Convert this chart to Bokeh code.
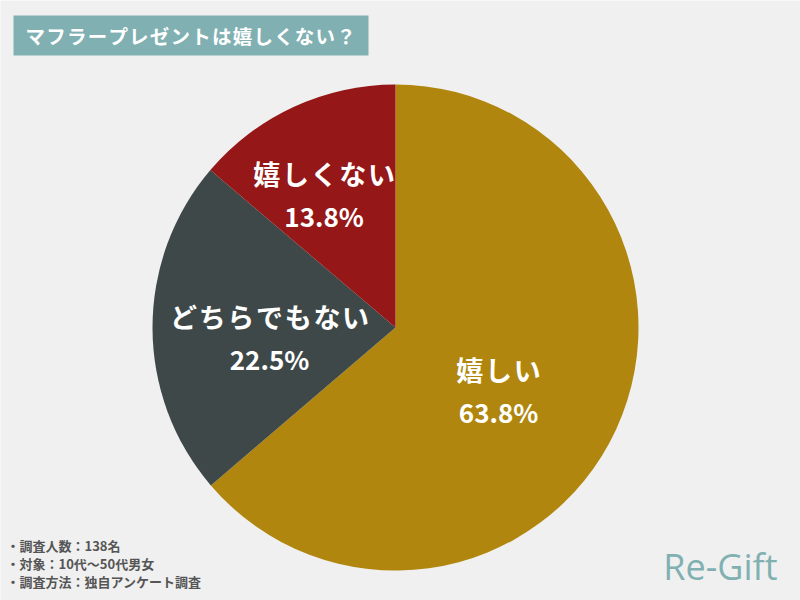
import math
from bokeh.plotting import figure
from bokeh.models import Range1d, ColumnDataSource, Label
from bokeh.core.properties import value
from bokeh.embed import file_html
from bokeh.resources import INLINE

# ---- data ----
categories = ["嬉しい", "どちらでもない", "嬉しくない"]
percents = [63.8, 22.5, 13.8]
colors = ["#b0860e", "#3e4849", "#951717"]
title_text = "マフラープレゼントは嬉しくない？"
notes = ["・調査人数：138名", "・対象：10代〜50代男女", "・調査方法：独自アンケート調査"]
brand = "Re-Gift"

W, H = 800, 600
CX, CY, R = 395, H - 327, 243
FONT = "Noto Sans CJK JP"
HAIR = "\u200a"

p = figure(width=W, height=H, output_backend="svg", toolbar_location=None,
           x_range=Range1d(0, W), y_range=Range1d(0, H), min_border=0)
p.axis.visible = False
p.grid.visible = False
p.outline_line_color = None
p.background_fill_color = "#f0f0f0"
p.border_fill_color = "#f0f0f0"

total = sum(percents)
starts, ends, mids = [], [], []
cum = 0.0
for v in percents:
    a0 = math.pi / 2 - cum / total * 2 * math.pi
    cum += v
    a1 = math.pi / 2 - cum / total * 2 * math.pi
    starts.append(a0)
    ends.append(a1)
    mids.append((a0 + a1) / 2)

src = ColumnDataSource(dict(start=starts, end=ends, color=colors))
p.wedge(x=CX, y=CY, radius=R, start_angle="start", end_angle="end",
        direction="clock", fill_color="color", line_color=None, source=src)

# labels (placed along each slice's mid angle)
lab_r = [0.497, 0.52, 0.622]
lab_da = [-0.117, 0.075, 0.059]
lx, ly, names, pcts = [], [], [], []
for i, m in enumerate(mids):
    a = m + lab_da[i]
    lx.append(CX + lab_r[i] * R * math.cos(a))
    ly.append(CY + lab_r[i] * R * math.sin(a))
    names.append(HAIR.join(categories[i]))
    pcts.append(f"{percents[i]:.1f}%")

lsrc = ColumnDataSource(dict(x=lx, y=[v + 21 for v in ly], t=names))
psrc = ColumnDataSource(dict(x=lx, y=[v - 21 for v in ly], t=pcts))
p.text(x="x", y="y", text="t", source=lsrc, text_color="white",
       text_font=value(FONT), text_font_style="bold", text_font_size="27px",
       text_align="center", text_baseline="middle")
p.text(x="x", y="y", text="t", source=psrc, text_color="white",
       text_font=value(FONT), text_font_style="bold", text_font_size="26px",
       text_align="center", text_baseline="middle")

# title box
p.quad(left=13, right=368, top=H - 15, bottom=H - 55, fill_color="#80b0b2",
       line_color=None)
p.add_layout(Label(x=25, y=H - 35, text=HAIR.join(title_text), text_color="white",
                   text_font=FONT, text_font_style="bold", text_font_size="19.5px",
                   text_baseline="middle", text_align="left"))

# notes
for i, n in enumerate(notes):
    p.add_layout(Label(x=6, y=H - 545 - i * 18, text=n, text_color="#555555",
                       text_font=FONT, text_font_style="bold", text_font_size="13px",
                       text_baseline="middle", text_align="left"))

p.add_layout(Label(x=777, y=H - 566, text=brand, text_color="#80b0b2",
                   text_font="Open Sans", text_font_style="normal",
                   text_font_size="36px", text_baseline="middle", text_align="right"))

open("out.html", "w").write(file_html(p, INLINE))
